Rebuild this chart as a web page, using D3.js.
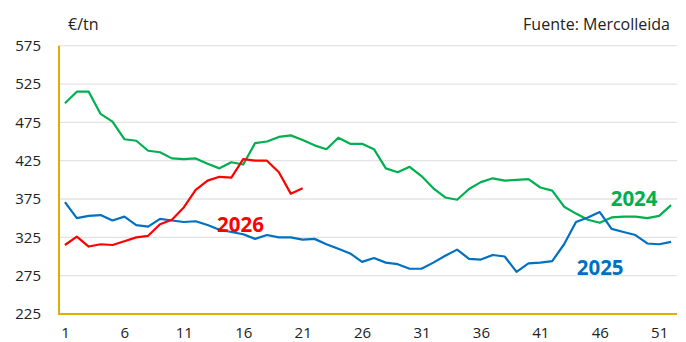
<!DOCTYPE html>
<html>
<head>
<meta charset="utf-8">
<script src="https://cdn.jsdelivr.net/npm/d3@7/dist/d3.min.js"></script>
<style>
  html, body { margin: 0; padding: 0; background: #fff; }
  svg { display: block; font-family: "Open Sans", "Noto Sans", sans-serif; }
</style>
</head>
<body>
<svg id="chart" width="686" height="342"></svg>
<script>
// Weekly price, €/tn, by campaign year
const weeks = d3.range(1, 53);
const tickWeeks = [1, 6, 11, 16, 21, 26, 31, 36, 41, 46, 51];
const yTicks = [225, 275, 325, 375, 425, 475, 525, 575];

const values2024 = [500, 515, 515, 486, 476, 453, 451, 438, 436, 428, 427, 428, 421, 415, 423, 420,
  448, 450, 456, 458, 452, 445, 440, 455, 447, 447, 440, 415, 410, 417, 405, 389, 377, 374, 388,
  397, 402, 399, 400, 401, 390, 386, 365, 356, 348, 344, 351, 352, 352, 350, 353, 367];
const values2025 = [371, 350, 353, 354, 347, 352, 341, 339, 349, 347, 345, 346, 341, 335, 332, 329,
  323, 328, 325, 325, 322, 323, 316, 310, 304, 293, 298, 292, 290, 284, 284, 292, 301, 309, 297,
  296, 302, 300, 280, 291, 292, 294, 316, 345, 351, 358, 336, 332, 328, 317, 316, 319];
const values2026 = [315, 326, 313, 316, 315, 320, 325, 327, 342, 348, 364, 387, 399, 404, 403, 427,
  425, 425, 410, 382, 389];

const seriesNames = ["2024", "2025", "2026"];
const seriesColors = ["#00B050", "#0070C0", "#FF0000"];

const margin = { top: 45.7, right: 9, bottom: 28, left: 59 };
const W = 686, H = 342;
const svg = d3.select("#chart");

const x = d3.scalePoint().domain(weeks).range([margin.left, W - margin.right]).padding(0.5);
const y = d3.scaleLinear().domain([225, 575]).range([H - margin.bottom, margin.top]);
// position along the week axis, allowing fractional weeks
const xw = w => x(1) + (w - 1) * x.step();

// Horizontal gridlines
svg.append("g")
  .selectAll("line")
  .data(yTicks.filter(d => d > 225))
  .join("line")
  .attr("x1", margin.left).attr("x2", W - margin.right)
  .attr("y1", d => y(d)).attr("y2", d => y(d))
  .attr("stroke", "#E3E3E3").attr("stroke-width", 1.3);

// Y axis labels
const yAxis = d3.axisLeft(y).tickValues(yTicks).tickSize(0).tickPadding(18);
const gy = svg.append("g").attr("transform", `translate(${margin.left},0)`).call(yAxis);
gy.select(".domain").remove();
gy.selectAll("text")
  .attr("font-family", "'Open Sans', sans-serif")
  .attr("font-size", 15).attr("fill", "#222");

// X axis labels
const xAxis = d3.axisBottom(x).tickValues(tickWeeks).tickSize(0).tickPadding(0);
const gx = svg.append("g").attr("transform", `translate(0,${H - margin.bottom})`).call(xAxis);
gx.select(".domain").remove();
gx.selectAll("text")
  .attr("dy", null)
  .attr("y", 24)
  .attr("font-family", "'Open Sans', sans-serif")
  .attr("font-size", 15).attr("fill", "#222");

// Gold axis lines
svg.append("line")
  .attr("x1", margin.left).attr("x2", margin.left)
  .attr("y1", y(575)).attr("y2", y(225))
  .attr("stroke", "#E5AC00").attr("stroke-width", 2);
svg.append("line")
  .attr("x1", margin.left - 1).attr("x2", W - margin.right)
  .attr("y1", y(225)).attr("y2", y(225))
  .attr("stroke", "#E5AC00").attr("stroke-width", 2);

// Series lines
const line = d3.line().x((d, i) => x(weeks[i])).y(d => y(d));
[values2024, values2025, values2026].forEach((vals, k) => {
  svg.append("path")
    .datum(vals)
    .attr("fill", "none")
    .attr("stroke", seriesColors[k])
    .attr("stroke-width", 2.2)
    .attr("stroke-linejoin", "round")
    .attr("d", line);
});

// Series labels
const labelWeeks = [46.92, 44.06, 13.8];
const labelValues = [365.9, 275.9, 332.4];
seriesNames.forEach((name, k) => {
  svg.append("text")
    .attr("x", xw(labelWeeks[k]))
    .attr("y", y(labelValues[k]))
    .attr("font-family", "'Open Sans', sans-serif")
    .attr("font-weight", 700)
    .attr("font-size", 20.5)
    .attr("fill", seriesColors[k])
    .text(name);
});

// Unit and source
svg.append("text")
  .attr("x", 68).attr("y", 30)
  .attr("font-size", 16).attr("fill", "#222")
  .text("€/tn");
svg.append("text")
  .attr("x", 670).attr("y", 30)
  .attr("text-anchor", "end")
  .attr("font-size", 16).attr("fill", "#222")
  .text("Fuente: Mercolleida");
</script>
</body>
</html>
